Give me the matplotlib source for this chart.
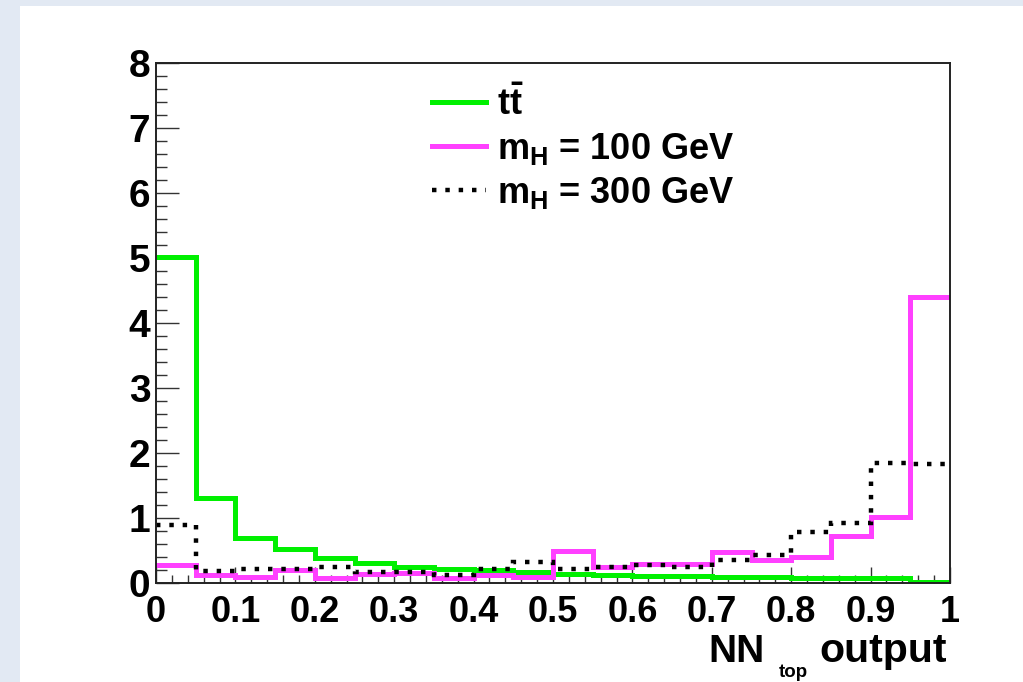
import numpy as np
import matplotlib
matplotlib.use("Agg")
import matplotlib.pyplot as plt
from matplotlib.patches import Rectangle
from matplotlib.lines import Line2D
from matplotlib.ticker import MultipleLocator

plt.rcParams['font.family'] = ['Liberation Sans', 'DejaVu Sans']
plt.rcParams['font.weight'] = 'bold'
plt.rcParams['mathtext.fontset'] = 'custom'
plt.rcParams['mathtext.rm'] = 'Liberation Sans:bold'
plt.rcParams['mathtext.bf'] = 'Liberation Sans:bold'
plt.rcParams['mathtext.it'] = 'Liberation Sans:bold'
plt.rcParams['mathtext.default'] = 'bf'

# ---- data ----
bin_edges = np.linspace(0.0, 1.0, 21)
ttbar = [5.02, 1.31, 0.70, 0.52, 0.39, 0.31, 0.25, 0.21, 0.20, 0.17,
         0.14, 0.12, 0.11, 0.11, 0.10, 0.09, 0.08, 0.08, 0.07, 0.02]
mh100 = [0.28, 0.12, 0.09, 0.20, 0.07, 0.14, 0.16, 0.07, 0.12, 0.09,
         0.50, 0.24, 0.29, 0.29, 0.48, 0.35, 0.40, 0.72, 1.01, 4.40]
mh300 = [0.90, 0.19, 0.21, 0.21, 0.24, 0.17, 0.17, 0.13, 0.21, 0.32,
         0.21, 0.24, 0.27, 0.25, 0.35, 0.43, 0.78, 0.93, 1.85, 1.83]
labels = [r'$t\bar{t}$', r'$m_{H}$ = 100 GeV', r'$m_{H}$ = 300 GeV']
x_ticks = [0, 0.1, 0.2, 0.3, 0.4, 0.5, 0.6, 0.7, 0.8, 0.9, 1]
x_ticklabels = ['0', '0.1', '0.2', '0.3', '0.4', '0.5', '0.6', '0.7', '0.8', '0.9', '1']
y_ticks = [0, 1, 2, 3, 4, 5, 6, 7, 8]

W, H = 1023, 682
fig = plt.figure(figsize=(W / 100, H / 100), dpi=100)
fig.patch.set_facecolor('#e2e9f3')
fig.patches.append(Rectangle((20 / W, 0), 1 - 20 / W, (H - 6) / H,
                             transform=fig.transFigure, facecolor='white',
                             edgecolor='none', zorder=-10))

ax = fig.add_axes([156 / W, (H - 583) / H, (950 - 156) / W, (583 - 63) / H])
ax.set_facecolor('white')

green = '#00f000'
magenta = '#ff40ff'
dotted = (0, (1, 2))
ax.stairs(ttbar, bin_edges, baseline=None, color=green, lw=3.6, zorder=3)
ax.stairs(mh100, bin_edges, baseline=None, color=magenta, lw=3.6, zorder=4)
ax.stairs(mh300, bin_edges, baseline=None, color='black', lw=3.2,
          linestyle=dotted, zorder=5)

ax.set_xlim(0, 1)
ax.set_ylim(0, 8)

ax.set_xticks(x_ticks)
ax.set_xticklabels(x_ticklabels)
ax.set_yticks(y_ticks)
ax.xaxis.set_minor_locator(MultipleLocator(0.02))
ax.yaxis.set_minor_locator(MultipleLocator(0.2))
ax.tick_params(axis='x', which='major', direction='in', length=11.5, width=1.0,
               labelsize=26, pad=9, top=False, color='#333333')
ax.tick_params(axis='x', which='minor', direction='in', length=5.5, width=1.0,
               top=False, color='#333333')
ax.tick_params(axis='y', which='major', direction='in', length=16.5, width=1.0,
               labelsize=28, pad=4, right=False, color='#333333')
ax.tick_params(axis='y', which='minor', direction='in', length=8, width=1.0,
               right=False, color='#333333')
for lab in ax.get_xticklabels() + ax.get_yticklabels():
    lab.set_fontweight('bold')
for sp in ax.spines.values():
    sp.set_linewidth(1.4)
    sp.set_color('#222222')
    sp.set_zorder(10)

# x-axis title (NN_top output), right-aligned under the axis
fig.text(708 / W, (H - 662) / H, 'NN', fontsize=28, fontweight='bold',
         ha='left', va='baseline')
fig.text(779 / W, (H - 677) / H, 'top', fontsize=13.5, fontweight='bold',
         ha='left', va='baseline')
fig.text(947 / W, (H - 662) / H, 'output', fontsize=29.5, fontweight='bold',
         ha='right', va='baseline')

handles = [Line2D([], [], color=green, lw=3.6),
           Line2D([], [], color=magenta, lw=3.6),
           Line2D([], [], color='black', lw=3.2, linestyle=dotted)]
leg = ax.legend(handles, labels, loc='upper left',
                bbox_to_anchor=(432 / W, (H - 86) / H),
                bbox_transform=fig.transFigure, frameon=False,
                fontsize=26, handlelength=1.5, handletextpad=0.3,
                labelspacing=0.22, borderpad=0, borderaxespad=0)
for t in leg.get_texts():
    t.set_fontweight('bold')

fig.savefig('out.png', dpi=100, facecolor=fig.get_facecolor())
